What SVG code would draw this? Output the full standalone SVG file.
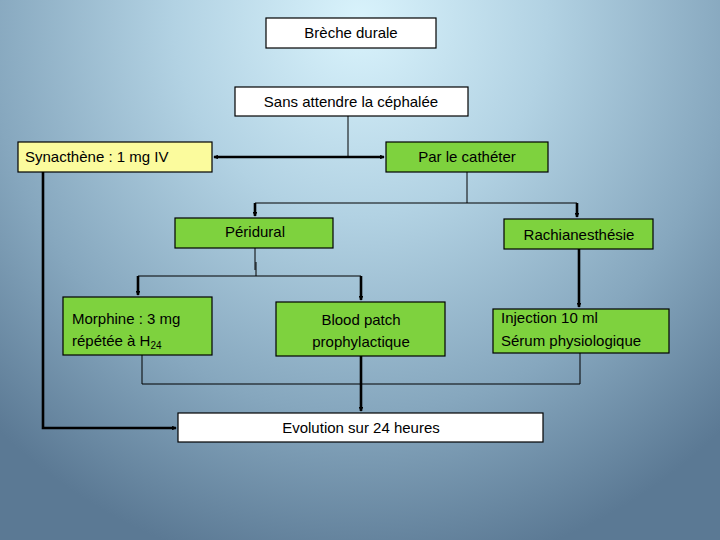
<svg xmlns="http://www.w3.org/2000/svg" width="720" height="540" viewBox="0 0 720 540">
<defs>
<radialGradient id="bg" cx="360" cy="20" r="560" gradientUnits="userSpaceOnUse" gradientTransform="translate(360 20) scale(0.95 1) translate(-360 -20)">
<stop offset="0" stop-color="#d9f3fc"/>
<stop offset="0.35" stop-color="#b2d2e3"/>
<stop offset="0.7" stop-color="#86a7be"/>
<stop offset="1" stop-color="#5b7994"/>
</radialGradient>
<marker id="ah" viewBox="0 0 6 6" refX="5" refY="3" markerWidth="1.8" markerHeight="1.8" orient="auto" markerUnits="strokeWidth">
<path d="M0,0 L6,3 L0,6 z" fill="#000"/>
</marker>
</defs>
<style>
.box{stroke:#000;stroke-width:1.2}
.w{fill:#fff}
.g{fill:#7ed23e}
.y{fill:#fbfb9d}
text{font-family:"Liberation Sans",Arial,sans-serif;font-size:15px;fill:#000}
.c{text-anchor:middle}
.thin{stroke:#000;stroke-width:1;fill:none}
.thick{stroke:#000;stroke-width:2.6;fill:none}
</style>
<rect width="720" height="540" fill="url(#bg)"/>
<g id="connectors">
<path class="thin" d="M348,116 V157"/>
<path class="thick" d="M300,157 H214" marker-end="url(#ah)"/>
<path class="thick" d="M300,157 H384" marker-end="url(#ah)"/>
<path class="thin" d="M467,172 V203 M255,203 H577"/>
<path class="thick" d="M255,203 V216" marker-end="url(#ah)"/>
<path class="thick" d="M577,203 V217" marker-end="url(#ah)"/>
<path class="thin" d="M255,248 V270 M256,262 V276 M138,276 H361"/>
<path class="thick" d="M138,276 V295" marker-end="url(#ah)"/>
<path class="thick" d="M361,276 V300" marker-end="url(#ah)"/>
<path class="thick" d="M579,249 V307" marker-end="url(#ah)"/>
<path class="thin" d="M142,355 V384 H580 V353"/>
<path class="thick" d="M361,356 V411" marker-end="url(#ah)"/>
<path class="thick" d="M43,172 V428 H176" marker-end="url(#ah)"/>
</g>
<g id="breche"><rect class="box w" x="266" y="18" width="170" height="30"/><text class="c" x="351" y="38">Brèche durale</text></g>
<g id="sans"><rect class="box w" x="235" y="87" width="233" height="29"/><text class="c" x="351" y="107">Sans attendre la céphalée</text></g>
<g id="synacthene"><rect class="box y" x="18" y="142" width="194" height="30"/><text x="25" y="162">Synacthène : 1 mg IV</text></g>
<g id="catheter"><rect class="box g" x="386" y="142" width="162" height="30"/><text class="c" x="467" y="162">Par le cathéter</text></g>
<g id="peridural"><rect class="box g" x="175" y="218" width="158" height="30"/><text class="c" x="255" y="237">Péridural</text></g>
<g id="rachi"><rect class="box g" x="504" y="219" width="149" height="30"/><text class="c" x="579" y="240">Rachianesthésie</text></g>
<g id="morphine"><rect class="box g" x="63" y="297" width="149" height="58"/><text x="72" y="324">Morphine : 3 mg</text><text x="72" y="346">répétée à H<tspan font-size="10" dy="3">24</tspan></text></g>
<g id="bloodpatch"><rect class="box g" x="276" y="302" width="169" height="54"/><text class="c" x="361" y="325">Blood patch</text><text class="c" x="361" y="347">prophylactique</text></g>
<g id="injection"><rect class="box g" x="493" y="309" width="176" height="44"/><text x="501" y="323">Injection 10 ml</text><text x="501" y="346">Sérum physiologique</text></g>
<g id="evolution"><rect class="box w" x="178" y="413" width="365" height="29"/><text class="c" x="361" y="433">Evolution sur 24 heures</text></g>
</svg>
